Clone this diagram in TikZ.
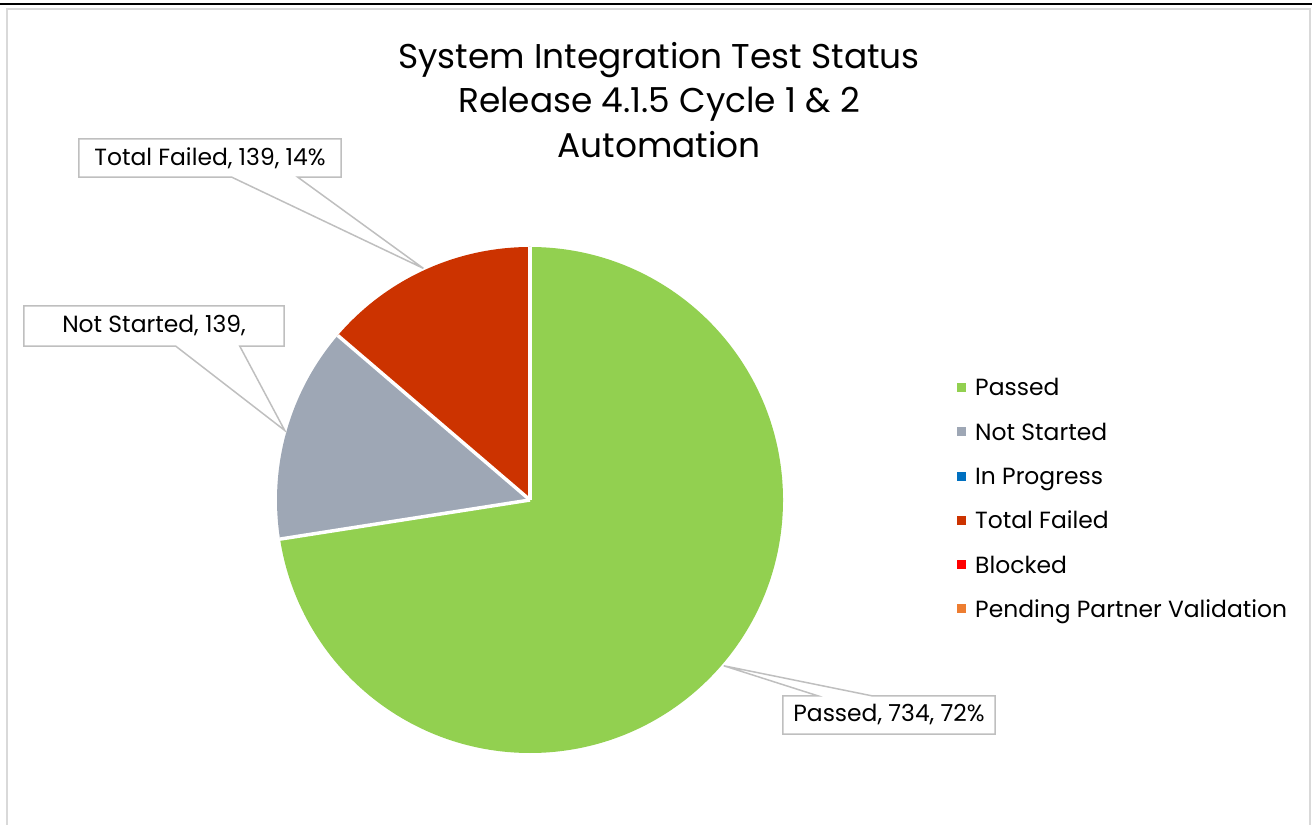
\documentclass[tikz,border=0pt]{standalone}
\usepackage{fontspec}
\setmainfont{Poppins}
\usetikzlibrary{calc}
\definecolor{passedcol}{HTML}{92D050}
\definecolor{notstartedcol}{HTML}{9EA7B5}
\definecolor{progresscol}{HTML}{0070C0}
\definecolor{failedcol}{HTML}{CC3300}
\definecolor{blockedcol}{HTML}{FF0000}
\definecolor{pendingcol}{HTML}{ED7D31}
\definecolor{framecol}{HTML}{D9D9D9}
\definecolor{calloutcol}{HTML}{BFBFBF}

\begin{document}
\begin{tikzpicture}[x=1bp,y=1bp,line join=miter,
  slice/.style={draw=white,line width=3.5bp},
  callout/.style={draw=calloutcol,line width=1.5bp},
  lbl/.style={inner sep=0pt,font=\fontsize{23.5}{28}\selectfont},
  swatch/.style={inner sep=0pt,minimum size=9bp},
  legtext/.style={anchor=base west,inner sep=0pt,font=\fontsize{23.5}{28}\selectfont},
]
\useasboundingbox (0,0) rectangle (1312,824);
  % Frame
  \draw [black,line width=2.5bp] (0,820) -- (1312,820);
  \draw [framecol,line width=2bp] (7,-20) -- (7,815) -- (1310,815) -- (1310,-20);
  % Title
  \node [align=center,font=\fontsize{34.5}{45}\selectfont] (title) at (659,724)
    {System Integration Test Status\\Release 4.1.5 Cycle 1 \& 2\\Automation};
  % Pie
  \coordinate (c) at (530,324);
  \fill [passedcol] (c) -- ++(90:253) arc [start angle=90,end angle=-171.11,radius=253] -- cycle;
  \fill [notstartedcol] (c) -- ++(-171.11:253) arc [start angle=-171.11,end angle=-220.56,radius=253] -- cycle;
  \fill [failedcol] (c) -- ++(-220.56:253) arc [start angle=-220.56,end angle=-270,radius=253] -- cycle;
  \draw [slice] (c) -- ++(90:253);
  \draw [slice] (c) -- ++(-171.11:253);
  \draw [slice] (c) -- ++(-220.56:253);
  \coordinate (tipPassed) at ($(c)+(-40.55:255)$);
  \coordinate (tipNotStarted) at ($(c)+(164.16:255)$);
  \coordinate (tipFailed) at ($(c)+(114.72:255)$);
  % Label: Total Failed
  \node [lbl,minimum width=262bp,minimum height=38bp] (failed) at (210,666) {Total Failed, 139, 14\%};
  \draw [callout] (failed.north west) -- (failed.north east) -- (failed.south east)
    -- ($(failed.south west)+(219,0)$) -- (tipFailed) -- ($(failed.south west)+(153,0)$) -- (failed.south west) -- cycle;
  % Label: Not Started
  \node [lbl,minimum width=260bp,minimum height=40bp] (notstarted) at (154,498) {Not Started, 139,};
  \draw [callout] (notstarted.north west) -- (notstarted.north east) -- (notstarted.south east)
    -- ($(notstarted.south west)+(216,0)$) -- (tipNotStarted) -- ($(notstarted.south west)+(152,0)$) -- (notstarted.south west) -- cycle;
  % Label: Passed
  \node [lbl,minimum width=212bp,minimum height=38bp] (passed) at (889,109) {Passed, 734, 72\%};
  \draw [callout] (passed.south west) -- (passed.north west) -- ($(passed.north west)+(35,0)$) -- (tipPassed)
    -- ($(passed.north west)+(89,0)$) -- (passed.north east) -- (passed.south east) -- cycle;
  % Legend
  \node [swatch,fill=passedcol] (lgPassed) at (961.5,436.5) {};
  \node [legtext] (lgPassedText) at (975,428) {Passed};
  \node [swatch,fill=notstartedcol] (lgNotStarted) at (961.5,392.2) {};
  \node [legtext] (lgNotStartedText) at (975,383.7) {Not Started};
  \node [swatch,fill=progresscol] (lgProgress) at (961.5,347.9) {};
  \node [legtext] (lgProgressText) at (975,339.4) {In Progress};
  \node [swatch,fill=failedcol] (lgFailed) at (961.5,303.6) {};
  \node [legtext] (lgFailedText) at (975,295.1) {Total Failed};
  \node [swatch,fill=blockedcol] (lgBlocked) at (961.5,259.3) {};
  \node [legtext] (lgBlockedText) at (975,250.8) {Blocked};
  \node [swatch,fill=pendingcol] (lgPending) at (961.5,215) {};
  \node [legtext] (lgPendingText) at (975,206.5) {Pending Partner Validation};
%
\end{tikzpicture}
\end{document}
